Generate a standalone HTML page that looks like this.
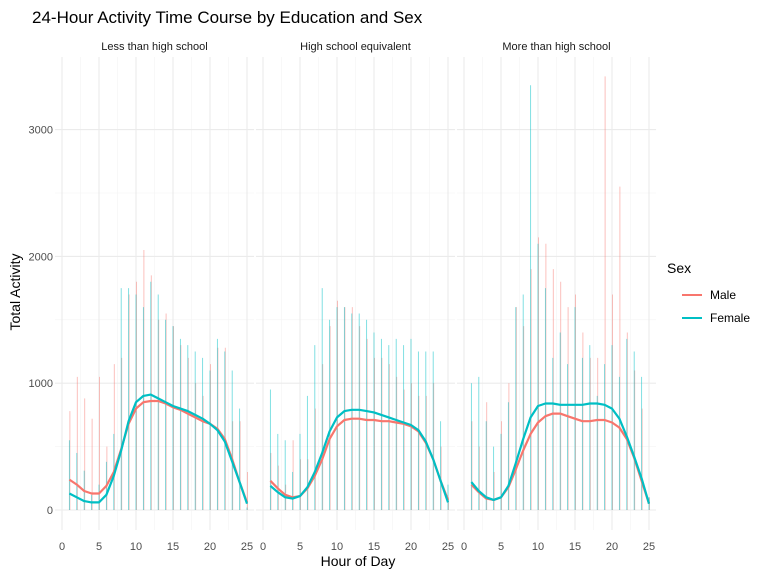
<!DOCTYPE html>
<html><head><meta charset="utf-8"><style>
body{margin:0;background:#fff;}
svg text{font-family:"Liberation Sans",Arial,sans-serif;}
</style></head><body>
<svg id="chart" width="768" height="576" viewBox="0 0 768 576" xmlns="http://www.w3.org/2000/svg">
<rect width="768" height="576" fill="#fff"/>
<text x="32" y="23" font-size="17" fill="#000">24-Hour Activity Time Course by Education and Sex</text>
<text x="358" y="566" font-size="14" text-anchor="middle" fill="#000">Hour of Day</text>
<text transform="translate(20,292) rotate(-90)" font-size="14" text-anchor="middle" fill="#000">Total Activity</text>
<g>
<text x="667" y="273" font-size="14" fill="#000">Sex</text>
<line x1="682" y1="295" x2="702" y2="295" stroke="#F8766D" stroke-width="2"/>
<text x="710" y="299" font-size="12" fill="#000">Male</text>
<line x1="682" y1="318" x2="702" y2="318" stroke="#00BFC4" stroke-width="2"/>
<text x="710" y="322" font-size="12" fill="#000">Female</text>
</g>
<g id="panels"></g>
</svg>
<script>
const panelNames = ["Less than high school","High school equivalent","More than high school"];
const hours = [1,2,3,4,5,6,7,8,9,10,11,12,13,14,15,16,17,18,19,20,21,22,23,24,25];
const xTicks = [0,5,10,15,20,25];
const yTicks = [0,1000,2000,3000];
const smoothMale1 = [240,200,150,130,130,190,300,480,680,800,850,860,860,840,810,790,760,730,700,680,640,560,400,220,60];
const smoothFemale1 = [130,100,70,60,60,120,270,470,700,850,900,910,880,850,820,800,780,750,720,680,630,540,380,220,50];
const smoothMale2 = [230,170,120,100,110,170,270,400,560,660,710,720,720,710,710,700,700,690,680,660,620,530,400,230,80];
const smoothFemale2 = [190,140,100,90,110,180,300,450,620,730,780,790,790,780,770,750,730,710,690,670,630,540,400,230,60];
const smoothMale3 = [200,140,90,80,100,180,320,470,600,690,740,760,760,740,720,700,700,710,710,690,650,560,410,230,50];
const smoothFemale3 = [220,150,100,80,100,190,370,560,730,820,840,840,830,830,830,830,840,840,830,800,720,580,420,250,50];
const spikeFemale1 = [550,450,310,120,200,380,600,1750,1750,1700,1600,1800,1700,1500,1450,1350,1300,1250,1200,1100,1350,1250,1100,800,20];
const spikeMale1 = [780,1050,880,720,1050,500,1150,1200,1700,1800,2050,1850,1500,1550,1450,1300,1200,1000,900,1150,1280,1280,700,700,300];
const spikeFemale2 = [950,600,550,300,600,900,1300,1750,1500,1600,1600,1550,1550,1500,1400,1350,1300,1350,1300,1350,1250,1250,1250,700,200];
const spikeMale2 = [450,350,200,550,400,400,800,1150,1450,1650,1600,1600,1450,1350,1200,1200,1150,1050,950,1000,900,900,1000,500,100];
const spikeFemale3 = [1000,1050,700,500,600,850,1600,1700,3350,2100,1750,1200,1400,1150,1600,1200,1300,900,1150,1300,1050,1350,1250,1050,100];
const spikeMale3 = [700,500,850,300,700,1000,1600,1450,1900,2150,2100,1900,1800,1600,1700,1400,1200,1200,3420,1700,2550,1400,1100,800,100];

const smoothM=[smoothMale1,smoothMale2,smoothMale3], smoothF=[smoothFemale1,smoothFemale2,smoothFemale3];
const spikeM=[spikeMale1,spikeMale2,spikeMale3], spikeF=[spikeFemale1,spikeFemale2,spikeFemale3];
const NS="http://www.w3.org/2000/svg";
const g=document.getElementById('panels');
const x0s=[62,263,464], pxH=7.4, PL=-0.95, PR=25.95, TOP=57, BOT=530;
function yScale(v){return 510 - v*0.1268;}
function mk(t,a,parent){const e=document.createElementNS(NS,t);for(const k in a)e.setAttribute(k,a[k]);(parent||g).appendChild(e);return e;}
for(let p=0;p<3;p++){
  const xs=h=>x0s[p]+h*pxH;
  const pg=mk('g',{});
  
  
  const L=xs(PL), R=xs(PR);
  for(let v=500;v<3500;v+=1000){const l=mk('line',{x1:L,x2:R,y1:yScale(v),y2:yScale(v),stroke:'#f3f3f3','stroke-width':0.6},pg);}
  for(let h=2.5;h<25;h+=5){const l=mk('line',{x1:xs(h),x2:xs(h),y1:TOP,y2:BOT,stroke:'#f3f3f3','stroke-width':0.6},pg);}
  yTicks.forEach(v=>{const l=mk('line',{x1:L,x2:R,y1:yScale(v),y2:yScale(v),stroke:'#ebebeb','stroke-width':1.1},pg);});
  xTicks.forEach(h=>{const l=mk('line',{x1:xs(h),x2:xs(h),y1:TOP,y2:BOT,stroke:'#ebebeb','stroke-width':1.1},pg);
    const t=mk('text',{x:xs(h),y:550,'font-size':11,'text-anchor':'middle',fill:'#4d4d4d'},pg);t.textContent=h;});
  const st=mk('text',{x:(L+R)/2,y:50,'font-size':11,'text-anchor':'middle',fill:'#1a1a1a'},pg);st.textContent=panelNames[p];
  
  hours.forEach((h,i)=>{
    const a=mk('line',{x1:xs(h)+0.5,x2:xs(h)+0.5,y1:yScale(0),y2:yScale(spikeM[p][i]),stroke:'#F8766D','stroke-opacity':0.5,'stroke-width':0.9},pg);
    
    const b=mk('line',{x1:xs(h),x2:xs(h),y1:yScale(0),y2:yScale(spikeF[p][i]),stroke:'#00BFC4','stroke-opacity':0.55,'stroke-width':0.9},pg);
    
  });
  [[smoothM[p],'#F8766D','male-smooth-line'],[smoothF[p],'#00BFC4','female-smooth-line']].forEach(([arr,c,n])=>{
    const d=arr.map((v,i)=>(i?'L':'M')+xs(hours[i]).toFixed(1)+','+yScale(v).toFixed(1)).join('');
    const pa=mk('path',{d:d,fill:'none',stroke:c,'stroke-width':2.2,'stroke-linejoin':'round'},pg);
    
  });
}
yTicks.forEach(v=>{const t=mk('text',{x:53,y:yScale(v)+4,'font-size':11,'text-anchor':'end',fill:'#4d4d4d'});t.textContent=v;
  });
</script>
</body></html>
